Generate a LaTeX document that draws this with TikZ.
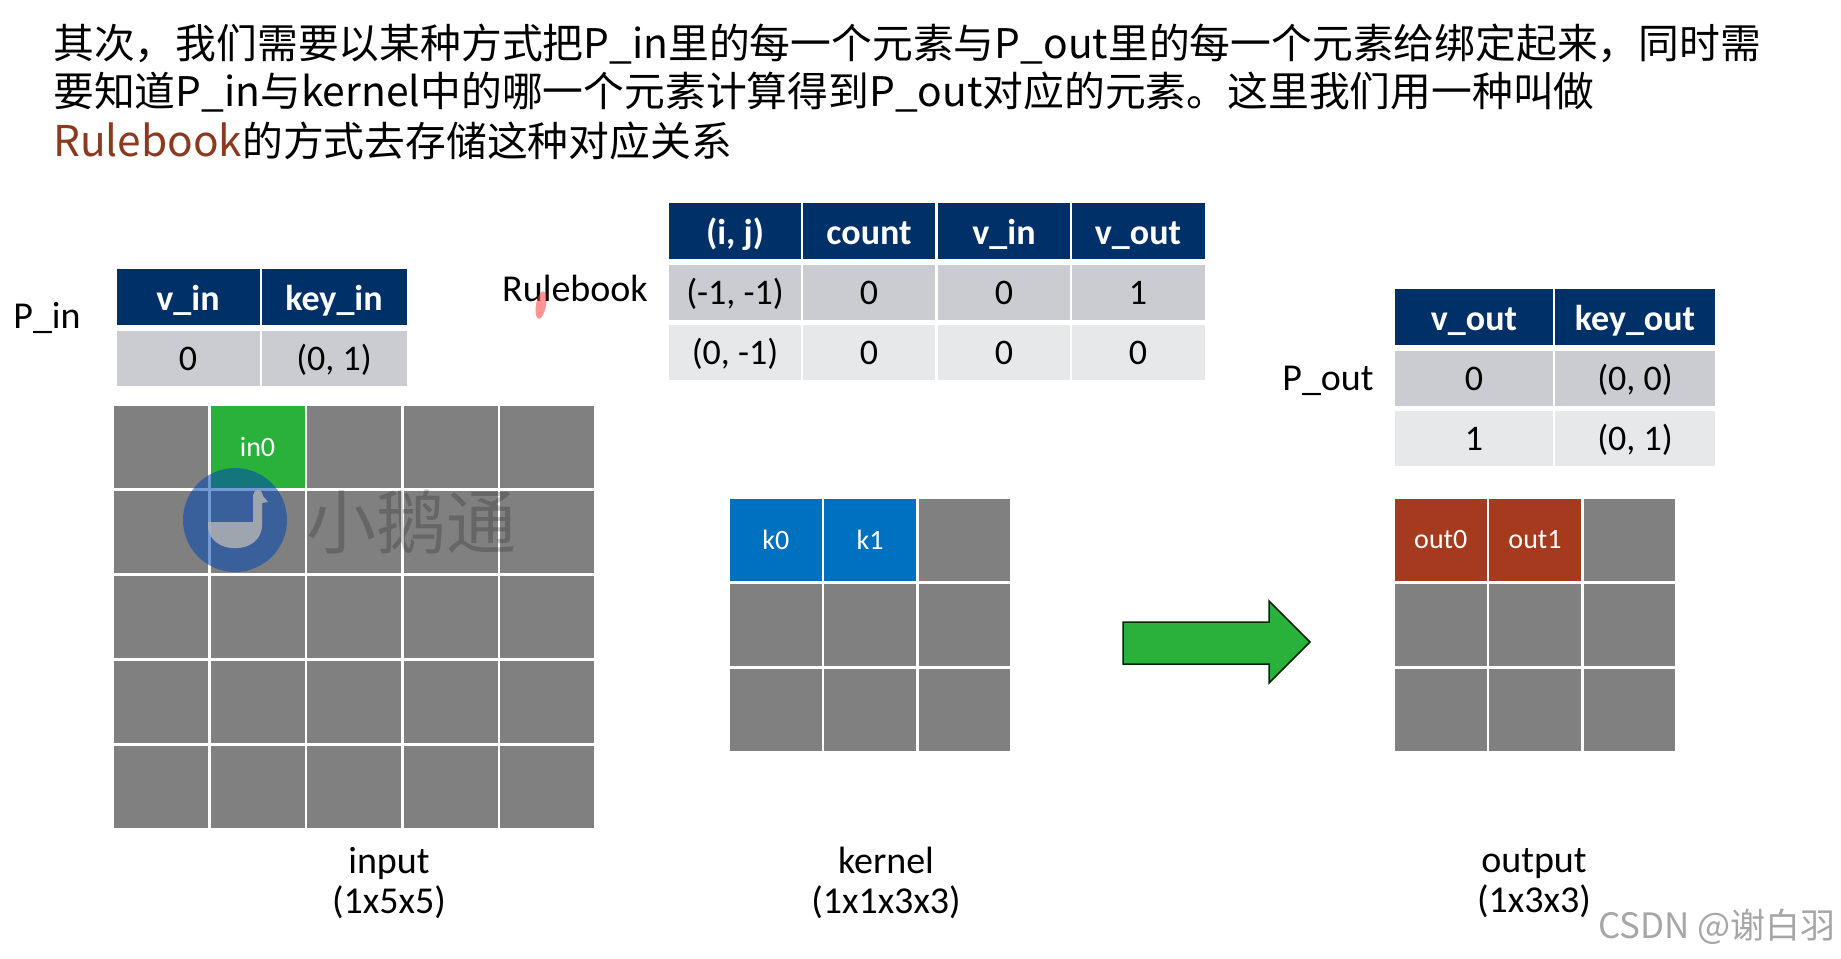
\documentclass[tikz,border=0pt]{standalone}
\usepackage{fontspec, xcolor}
\setmainfont{Carlito}
\newfontfamily\cjk{Noto Sans CJK SC}
\definecolor{headblue}{HTML}{003068}
\definecolor{rowdark}{HTML}{CBCCD1}
\definecolor{rowlight}{HTML}{E7E8EA}
\definecolor{cellgray}{HTML}{808080}
\definecolor{ingreen}{HTML}{2AB13C}
\definecolor{kblue}{HTML}{0070C0}
\definecolor{outred}{HTML}{A63A1E}
\definecolor{rulered}{HTML}{8B3A1F}
\begin{document}
\begin{tikzpicture}[
        x=1pt, y=-1pt,
        every node/.style={inner sep=0pt, font=\fontsize{36}{40}\selectfont},
        line/.style={anchor=west, font=\cjk\fontsize{40.8}{48}\selectfont},
        label/.style={font=\fontsize{38}{40}\selectfont},
        head/.style={fill=headblue, text=white, text height=31pt, text depth=4pt, minimum height=56pt, font=\bfseries\fontsize{36}{40}\selectfont},
        odd/.style={fill=rowdark, text height=29pt, text depth=4pt, minimum height=55pt},
        even/.style={fill=rowlight, text height=29pt, text depth=4pt, minimum height=55pt},
        incell/.style={fill=cellgray, text=white, minimum width=94pt, minimum height=82pt, font=\fontsize{28}{30}\selectfont},
        kcell/.style={fill=cellgray, text=white, minimum width=91.5pt, minimum height=82pt, font=\fontsize{28}{30}\selectfont}]
    \useasboundingbox (0,0) rectangle (1841,958);
    % heading
    \node[line] (line1) at (53,44) {其次，我们需要以某种方式把P\_in里的每一个元素与P\_out里的每一个元素给绑定起来，同时需};
    \node[line] (line2) at (53,92) {要知道P\_in与kernel中的哪一个元素计算得到P\_out对应的元素。这里我们用一种叫做};
    \node[line] (line3) at (53,141) {{\fontsize{42.4}{48}\selectfont\textcolor{rulered}{Rulebook}}的方式去存储这种对应关系};
    % tables
    \node[label] (pinlabel) at (47,318) {P\_in};
    \node[head, minimum width=143pt] (pinh1) at (188,297) {v\_in};
    \node[head, minimum width=145pt] (pinh2) at (334,297) {key\_in};
    \node[odd, minimum width=143pt] (pina1) at (188,358) {0};
    \node[odd, minimum width=145pt] (pina2) at (334,358) {(0, 1)};
    \node[label] (rulelabel) at (575,288) {Rulebook};
    \foreach \x/\w/\name/\txt/\one/\two in {735/132/i/{(i, j)}/{(-1, -1)}/{(0, -1)}, 869/132/c/count/0/0, 1004/132/v/v\_in/0/0, 1138/133/o/v\_out/1/0} {
        \node[head, minimum width=\w pt] (rule\name h) at (\x,231) {\txt};
        \node[odd, minimum width=\w pt] (rule\name a) at (\x,292) {\one};
        \node[even, minimum width=\w pt] (rule\name b) at (\x,352) {\two};
    }
    \node[label] (poutlabel) at (1328,381) {P\_out};
    \foreach \x/\w/\name/\txt/\one/\two in {1474/158/v/v\_out/0/1, 1635/160/k/key\_out/{(0, 0)}/{(0, 1)}} {
        \node[head, minimum width=\w pt] (pout\name h) at (\x,317) {\txt};
        \node[odd, minimum width=\w pt] (pout\name a) at (\x,378) {\one};
        \node[even, minimum width=\w pt] (pout\name b) at (\x,438) {\two};
    }
    % grids
    \foreach \r in {1,...,5}
        \foreach \c in {1,...,5}
            \node[incell] (in\r\c) at (161+96.5*\c-96.5, 447+85*\r-85) {};
    \foreach \r in {1,2,3}
        \foreach \c in {1,2,3} {
            \node[kcell] (k\r\c) at (775.75+94.25*\c-94.25, 540+85*\r-85) {};
            \node[kcell] (o\r\c) at (1440.75+94.25*\c-94.25, 540+85*\r-85) {};
        }
    \node[incell, fill=ingreen] (in0) at (in12) {in0};
    \node[kcell, fill=kblue] (k0) at (k11) {k0};
    \node[kcell, fill=kblue] (k1) at (k12) {k1};
    \node[kcell, fill=outred] (out0) at (o11) {out0};
    \node[kcell, fill=outred] (out1) at (o12) {out1};
    \draw[line width=1.5pt, draw=black!85!green, fill=ingreen] (1123,622) -- (1269,622) -- (1269,601) -- (1310,642) -- (1269,683) -- (1269,664) -- (1123,664) -- cycle;
    % captions
    \node[label, align=center] (inputlabel) at (389,883) {input\\(1x5x5)};
    \node[label, align=center] (kernellabel) at (886,883) {kernel\\(1x1x3x3)};
    \node[label, align=center] (outputlabel) at (1534,883) {output\\(1x3x3)};
    % watermarks
    \fill[blue!60!cyan!70!black, opacity=.55] (235,520) circle (52);
    \fill[gray!60!white, opacity=.85] (208,522) -- (253,522) -- (253,496) .. controls (254,488) and (262,488) .. (263,496) -- (268,502) -- (262,503) -- (262,525) .. controls (262,556) and (208,556) .. (208,525) -- cycle;
    \node[text=black, opacity=.2, font=\cjk\fontsize{70}{74}\selectfont] (goosemark) at (411,522) {小鹅通};
    \node[text=black!35, font=\cjk\fontsize{35}{38}\selectfont] (csdnmark) at (1717,927) {CSDN @谢白羽};
    \fill[red!70!white, opacity=.6, rotate around={-10:(541,305)}] (541,305) ellipse (5 and 14);
\end{tikzpicture}
\end{document}
